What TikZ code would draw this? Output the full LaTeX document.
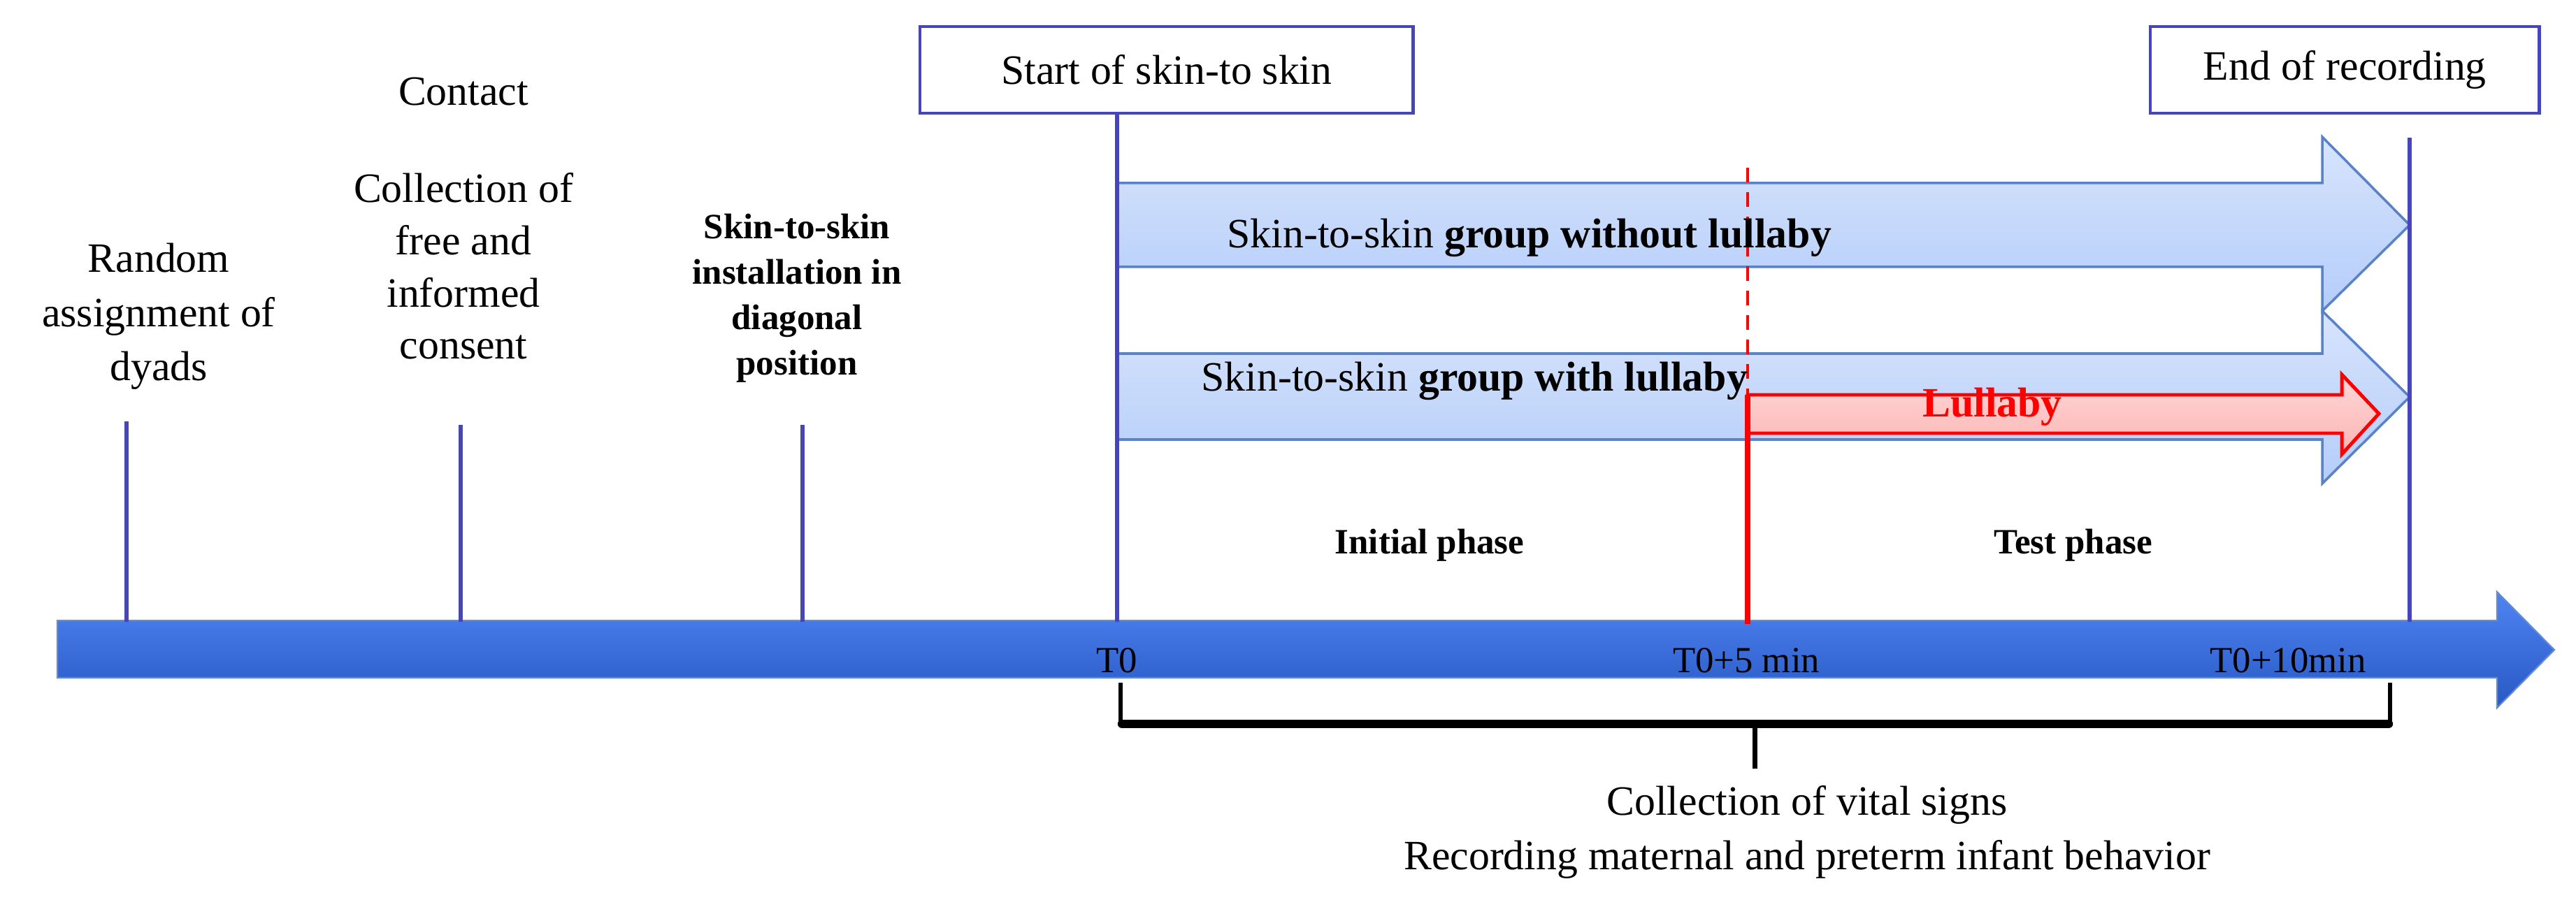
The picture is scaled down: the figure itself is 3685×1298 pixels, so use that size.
\documentclass[tikz,border=0pt]{standalone}
\usepackage{fontspec}
\setmainfont{Liberation Serif}
\begin{document}
\begin{tikzpicture}[x=0.01cm,y=-0.01cm,
  lbl/.style={align=center,font=\fontsize{17}{22}\selectfont,inner sep=0pt},
  blbl/.style={align=center,font=\fontsize{14.5}{18.5}\selectfont\bfseries,inner sep=0pt},
  tick/.style={draw=blue!45!gray,line width=1.6pt},
  box/.style={draw=blue!45!gray,line width=1.2pt,minimum height=1.24cm,font=\fontsize{17}{22}\selectfont}]
\useasboundingbox (0,0) rectangle (3685,1298);
% timeline
\shade[top color={rgb,255:red,78;green,132;blue,242},bottom color={rgb,255:red,40;green,88;blue,196},draw={rgb,255:red,100;green,140;blue,210},line width=0.6pt]
 (82,888) -- (3572,888) -- (3572,847) -- (3654,930) -- (3572,1013) -- (3572,970) -- (82,970) -- cycle;
% top group arrow
\shade[top color={rgb,255:red,215;green,228;blue,252},bottom color={rgb,255:red,180;green,205;blue,250},draw={rgb,255:red,90;green,130;blue,200},line width=1pt]
 (1598,262) -- (3322,262) -- (3322,196) -- (3447,322) -- (3322,445) -- (3322,382) -- (1598,382) -- cycle;
% bottom group arrow
\shade[top color={rgb,255:red,215;green,228;blue,252},bottom color={rgb,255:red,180;green,205;blue,250},draw={rgb,255:red,90;green,130;blue,200},line width=1pt]
 (1598,506) -- (3322,506) -- (3322,445) -- (3447,568) -- (3322,692) -- (3322,629) -- (1598,629) -- cycle;
% lullaby arrow
\shade[top color={rgb,255:red,255;green,215;blue,215},bottom color={rgb,255:red,252;green,180;blue,180},draw=red,line width=1.4pt]
 (2500,565) -- (3350,565) -- (3350,536) -- (3403,592) -- (3350,650) -- (3350,620) -- (2500,620) -- cycle;
% boxes
\node[box,minimum width=7.05cm,anchor=north west] (start) at (1314,36) {Start of skin-to skin};
\node[box,minimum width=5.56cm,anchor=north west] (endb) at (3074,36) {End of recording};
% vertical lines
\coordinate (t0b) at (1598,890);
\coordinate (t1) at (181,603); \coordinate (t1b) at (181,890);
\coordinate (t2) at (659,608); \coordinate (t2b) at (659,890);
\coordinate (t3) at (1148,608); \coordinate (t3b) at (1148,890);
\coordinate (e0) at (3447,197); \coordinate (e0b) at (3447,890);
\draw[tick] (t1) -- (t1b); \draw[tick] (t2) -- (t2b); \draw[tick] (t3) -- (t3b);
\draw[tick] (start.south -| t0b) -- (t0b);
\draw[tick] (e0) -- (e0b);
\coordinate (r0) at (2500,240); \coordinate (r1) at (2500,565); \coordinate (r2) at (2500,893);
\draw[red,dashed,line width=1.4pt,dash pattern=on 6pt off 4pt] (r0) -- (r1);
\draw[red,line width=2.2pt] (r1) -- (r2);
% texts
\node[lbl] (rand) at (227,453) {Random\\assignment of\\dyads};
\node[lbl] (contact) at (663,131) {Contact};
\node[lbl,font=\fontsize{17}{21.2}\selectfont] (consent) at (663,381) {Collection of\\free and\\informed\\consent};
\node[blbl] (install) at (1140,427) {Skin-to-skin\\installation in\\diagonal\\position};
\node[lbl,anchor=base west] (g1) at (1755,355) {Skin-to-skin \textbf{group without lullaby}};
\node[lbl,anchor=base west] (g2) at (1718,560) {Skin-to-skin \textbf{group with lullaby}};
\node[lbl,text=red,font=\fontsize{17}{22}\selectfont\bfseries] (lull) at (2850,582) {Lullaby};
\node[blbl] (init) at (2045,780) {Initial phase};
\node[blbl] (test) at (2966,780) {Test phase};
\node[lbl,font=\fontsize{15}{18}\selectfont] (T0) at (1598,945) {T0};
\node[lbl,font=\fontsize{15}{18}\selectfont] (T5) at (2498,945) {T0+5 min};
\node[lbl,font=\fontsize{15}{18}\selectfont] (T10) at (3273,945) {T0+10min};
% brace
\coordinate (b1) at (1603,977); \coordinate (b2) at (3419,977); \coordinate (bm) at (2510,1100);
\draw[line width=1.5pt] (b1) -- ++(0,58);
\draw[line width=1.5pt] (b2) -- ++(0,58);
\draw[line width=3.5pt,line cap=round] (1605,1036) -- (3417,1036);
\draw[line width=2pt] (2510,1036) -- (bm);
\node[lbl] (vital) at (2585,1191) {Collection of vital signs\\Recording maternal and preterm infant behavior};
\end{tikzpicture}
\end{document}
